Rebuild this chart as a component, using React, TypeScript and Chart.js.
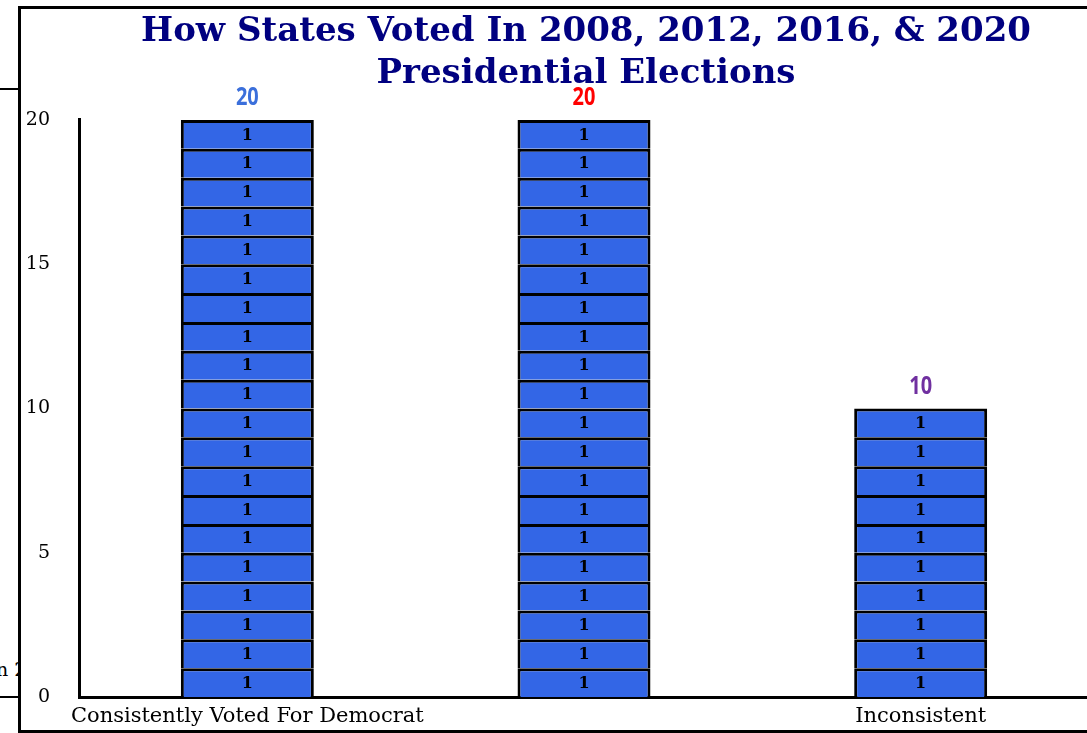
import React, { useEffect, useRef } from "react";
import { Chart, registerables } from "chart.js";

Chart.register(...registerables);

const categories = [
  "Consistently Voted For Democrat",
  "Consistently Voted For Republican",
  "Inconsistent",
];

// one entry per state (each state counted as 1)
const democratStates = [1, 1, 1, 1, 1, 1, 1, 1, 1, 1, 1, 1, 1, 1, 1, 1, 1, 1, 1, 1];
const republicanStates = [1, 1, 1, 1, 1, 1, 1, 1, 1, 1, 1, 1, 1, 1, 1, 1, 1, 1, 1, 1];
const inconsistentStates = [1, 1, 1, 1, 1, 1, 1, 1, 1, 1];

const totalColors = ["#3B6FDB", "#FF0000", "#7030A0"];
const yTicks = [0, 5, 10, 15, 20];
const titleLines = ["How States Voted In 2008, 2012, 2016, & 2020", "Presidential Elections"];

const BAR_COLOR = "#3366E6";
const SERIF = "'DejaVu Serif', serif";

export default function App() {
  const ref = useRef<HTMLCanvasElement | null>(null);

  useEffect(() => {
    if (!ref.current) return;
    const groups = [democratStates, republicanStates, inconsistentStates];
    const maxLen = Math.max(...groups.map((g) => g.length));
    const datasets = [];
    for (let i = 0; i < maxLen; i++) {
      datasets.push({
        label: "State " + (i + 1),
        data: groups.map((g) => (i < g.length ? g[i] : null)),
        backgroundColor: BAR_COLOR,
        borderColor: "#000000",
        borderWidth: 3,
        barPercentage: 0.395,
        categoryPercentage: 1,
      });
    }
    const totals = groups.map((g) => g.reduce((a, b) => a + b, 0));

    const labelPlugin = {
      id: "segLabels",
      afterDatasetsDraw(chart: any) {
        const ctx = chart.ctx;
        ctx.save();
        ctx.textAlign = "center";
        ctx.textBaseline = "middle";
        ctx.fillStyle = "#000000";
        ctx.font = "bold 16px " + SERIF;
        chart.data.datasets.forEach((ds: any, di: number) => {
          const meta = chart.getDatasetMeta(di);
          meta.data.forEach((el: any, idx: number) => {
            const v = ds.data[idx];
            if (v == null || v === 0) return;
            ctx.fillText(String(v), el.x, (el.y + el.base) / 2 + 1);
          });
        });
        const yScale = chart.scales.y;
        const xScale = chart.scales.x;
        ctx.font = "bold 25px 'Open Sans', sans-serif";
        totals.forEach((t, i) => {
          const px = xScale.getPixelForValue(i);
          const py = yScale.getPixelForValue(t) - 22;
          ctx.save();
          ctx.translate(px, py);
          ctx.scale(0.8, 1);
          ctx.fillStyle = totalColors[i];
          ctx.fillText(String(t), 0, 0);
          ctx.restore();
        });
        ctx.restore();
      },
    };

    const chart = new Chart(ref.current, {
      type: "bar",
      data: { labels: categories, datasets },
      plugins: [labelPlugin],
      options: {
        animation: false,
        responsive: false,
        maintainAspectRatio: false,
        layout: { padding: 0 },
        plugins: {
          legend: { display: false },
          tooltip: { enabled: false },
          title: {
            display: true,
            text: titleLines,
            color: "#000080",
            font: { family: "'DejaVu Serif', serif", size: 34, weight: "bold", lineHeight: 1.235 },
            padding: { top: 2, bottom: 25 },
          },
        },
        scales: {
          x: {
            stacked: true,
            grid: { display: false, drawTicks: false },
            border: { display: true, color: "#000000", width: 3 },
            ticks: {
              color: "#000000",
              font: { family: SERIF, size: 21 },
              padding: 7,
              maxRotation: 0,
              minRotation: 0,
              autoSkip: true,
              autoSkipPadding: 20,
            },
            afterFit: (s: any) => {
              s.height = 32;
            },
          },
          y: {
            stacked: true,
            min: 0,
            max: 20,
            grid: { display: false, drawTicks: false },
            border: { display: true, color: "#000000", width: 3 },
            afterBuildTicks: (s: any) => {
              s.ticks = yTicks.map((v) => ({ value: v }));
            },
            ticks: {
              color: "#000000",
              font: { family: SERIF, size: 19 },
              padding: 29,
            },
            afterFit: (s: any) => {
              s.width = 58;
              s.paddingTop = 0;
              s.paddingBottom = 0;
            },
          },
          y2: {
            position: "right",
            display: true,
            grid: { display: false, drawTicks: false },
            border: { display: false },
            ticks: { display: false },
            afterFit: (s: any) => {
              s.width = 62;
              s.paddingTop = 0;
              s.paddingBottom = 0;
            },
          },
        },
      },
    } as any);
    return () => chart.destroy();
  }, []);

  return (
    <div style={{ position: "absolute", left: 0, top: 0, width: 1087, height: 733, overflow: "hidden", background: "#fff" }}>
      <div style={{ position: "absolute", left: 0, top: 88, width: 19, height: 2, background: "#000" }} />
      <div style={{ position: "absolute", left: 0, top: 696, width: 19, height: 2, background: "#000" }} />
      <span
        style={{
          position: "absolute",
          left: -4,
          top: 658,
          fontFamily: SERIF,
          fontSize: 19,
          color: "#000",
          whiteSpace: "nowrap",
        }}
      >
        n 2
      </span>
      <div
        style={{
          position: "absolute",
          left: 18,
          top: 6,
          width: 1200,
          height: 727,
          boxSizing: "border-box",
          borderLeft: "3px solid #000",
          borderTop: "3px solid #000",
          borderBottom: "3px solid #000",
          background: "#fff",
        }}
      >
        <canvas ref={ref} width={1130} height={720} style={{ position: "absolute", left: 0, top: 0, width: 1130, height: 720 }} />
      </div>
    </div>
  );
}
